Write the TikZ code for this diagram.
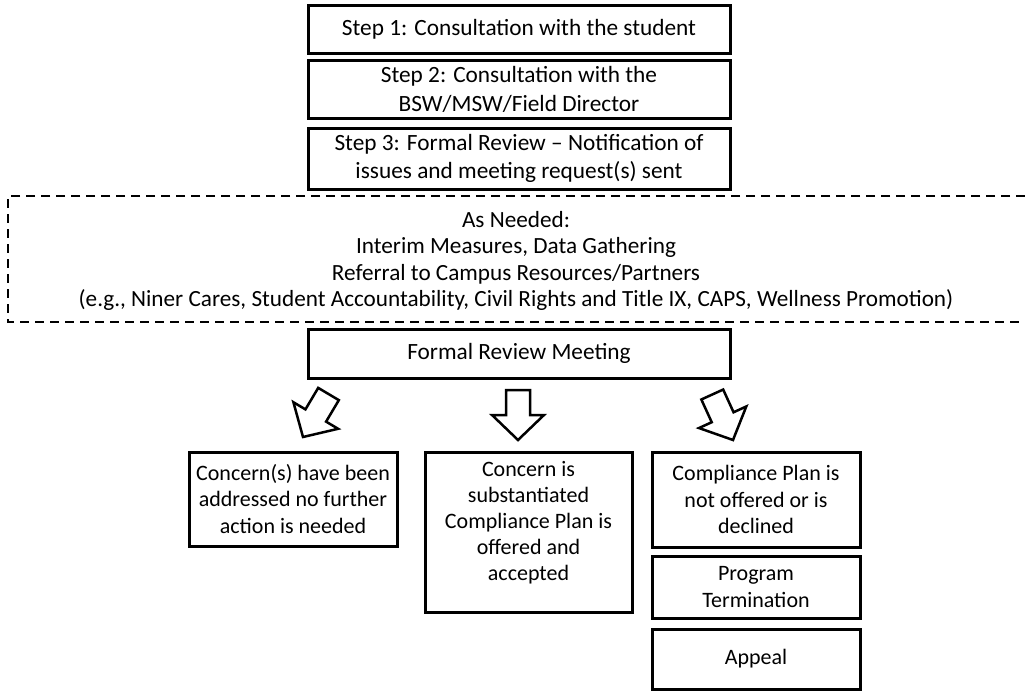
\documentclass[tikz,border=0pt]{standalone}
\usepackage{fontspec}
\setmainfont{Carlito}
\begin{document}
\begin{tikzpicture}[x=1pt,y=-1pt,
  box/.style={draw=black, line width=3pt, inner sep=0pt, align=center,
    font=\fontsize{23.3}{28.5}\selectfont},
  lowbox/.style={box, font=\fontsize{22}{26.2}\selectfont},
  dashbox/.style={draw=black, line width=2.5pt, dash pattern=on 9pt off 6pt},
  blockarrow/.style={draw=black, line width=2.5pt, line join=miter, fill=white}]
\useasboundingbox (0,0) rectangle (1025,691);

\node[box, minimum width=422, minimum height=48] (step1) at (519,29)
  {Step 1: Consultation with the student};
\node[box, minimum width=422, minimum height=58, text depth=0pt] (step2) at (519,89)
  {Step 2: Consultation with the\\BSW/MSW/Field Director};
\node[box, minimum width=422, minimum height=61] (step3) at (519,158.5)
  {Step 3: Formal Review -- Notification of\\issues and meeting request(s) sent};

\draw[dashbox] (1040,196) -- (8,196) -- (8,322) -- (1040,322);
\node[align=center, inner sep=0pt, font=\fontsize{23.2}{26.5}\selectfont] (needed) at (516,261)
  {As Needed:\\Interim Measures, Data Gathering\\Referral to Campus Resources/Partners\\(e.g., Niner Cares, Student Accountability, Civil Rights and Title IX, CAPS, Wellness Promotion)};

\node[box, minimum width=422, minimum height=49] (meeting) at (519,353.5)
  {Formal Review Meeting};

\draw[blockarrow, shift={(303,437)}, rotate=-30.7]
  (0,0) -- (26,-25) -- (12,-25) -- (12,-50) -- (-12,-50) -- (-12,-25) -- (-26,-25) -- cycle;
\draw[blockarrow, shift={(518,440)}]
  (0,0) -- (26,-25) -- (12,-25) -- (12,-50) -- (-12,-50) -- (-12,-25) -- (-26,-25) -- cycle;
\draw[blockarrow, shift={(733,440)}, rotate=24.5]
  (0,0) -- (26,-25) -- (12,-25) -- (12,-50) -- (-12,-50) -- (-12,-25) -- (-26,-25) -- cycle;

\node[lowbox, minimum width=208, minimum height=94] (resolved) at (293,499)
  {Concern(s) have been\\addressed no further\\action is needed};
\node[lowbox, minimum width=207, minimum height=160, text depth=22pt] (plan) at (528.5,532)
  {Concern is\\substantiated\\Compliance Plan is\\offered and\\accepted};
\node[lowbox, minimum width=208, minimum height=95] (noplan) at (756,499.5)
  {Compliance Plan is\\not offered or is\\declined};
\node[lowbox, minimum width=208, minimum height=62] (termination) at (756,587)
  {Program\\Termination};
\node[lowbox, minimum width=208, minimum height=60] (appeal) at (756,659)
  {Appeal};
\end{tikzpicture}
\end{document}
